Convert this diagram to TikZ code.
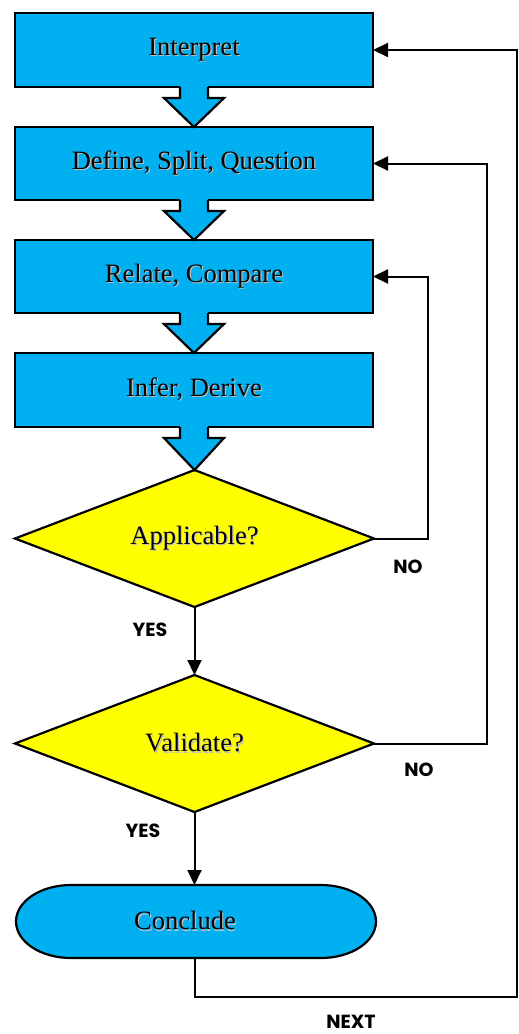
\documentclass[tikz,border=0pt]{standalone}
\usepackage{fontspec}
\setmainfont{Liberation Serif}
\newfontfamily\lblfont{Poppins}
\usetikzlibrary{shapes.geometric,arrows.meta,calc,backgrounds}
\definecolor{boxblue}{HTML}{00B0F0}
\definecolor{dyellow}{HTML}{FFFF00}
\newcommand\shd[1]{\leavevmode\rlap{\kern1.2pt\raisebox{-1.2pt}{\textcolor{black!25}{#1}}}#1}
\tikzset{
  every node/.style={inner sep=0pt, outer sep=0pt},
  txt/.style={font=\fontsize{26.5}{30}\selectfont},
  procbox/.style={txt, draw=black, fill=boxblue, line width=2.2pt, minimum width=358pt, minimum height=74pt},
  decision/.style={txt, diamond, draw=black, fill=dyellow, line width=2.2pt, aspect=2.62, minimum width=359pt, minimum height=137pt},
  termbox/.style={txt, minimum width=360pt, minimum height=73pt},
  conn/.style={draw=black, line width=2pt, -{Triangle[length=15pt,width=14pt]}},
  lbl/.style={font=\lblfont\bfseries\fontsize{19}{22}\selectfont},
  blockfill/.style={fill=boxblue},
  blockline/.style={draw=black, line width=2.2pt, line join=miter},
}
\newcommand\blockarrow[2]{%
  \fill[blockfill] ($(#1.south)+(-14,-2)$) -- ($(#1.south)+(-14,11)$) -- ($(#1.south)+(-30,11)$) -- (#2.north) -- ($(#1.south)+(30,11)$) -- ($(#1.south)+(14,11)$) -- ($(#1.south)+(14,-2)$) -- cycle;
  \draw[blockline] ($(#1.south)+(-14,0)$) -- ($(#1.south)+(-14,11)$) -- ($(#1.south)+(-30,11)$) -- (#2.north) -- ($(#1.south)+(30,11)$) -- ($(#1.south)+(14,11)$) -- ($(#1.south)+(14,0)$);
}
\begin{document}
\begin{tikzpicture}[x=1pt,y=-1pt]
\useasboundingbox (0,0) rectangle (519,1034);
\node[procbox] (b1) at (194,50) {\shd{Interpret}};
\node[procbox, minimum height=73pt] (b2) at (194,163.5) {\shd{Define, Split, Question}};
\node[procbox, minimum height=73pt] (b3) at (194,276.5) {\shd{Relate, Compare}};
\node[procbox] (b4) at (194,390) {\shd{Infer, Derive}};
\node[decision] (d1) at (194.5,538.5) {\shd{Applicable?}};
\node[decision] (d2) at (194.5,743.5) {\shd{Validate?}};
\node[termbox] (conc) at (196,921.5) {\shd{Conclude}\hspace*{22pt}};
\begin{pgfonlayer}{background}
\draw[fill=boxblue, line width=2.2pt] ($(conc.north west)+(55,0)$) -- ($(conc.north east)+(-55,0)$)
  arc[start angle=90, end angle=-90, x radius=55pt, y radius=36.5pt]
  -- ($(conc.south west)+(55,0)$)
  arc[start angle=-90, end angle=-270, x radius=55pt, y radius=36.5pt] -- cycle;
\end{pgfonlayer}
\blockarrow{b1}{b2}
\blockarrow{b2}{b3}
\blockarrow{b3}{b4}
\blockarrow{b4}{d1}
\draw[conn] (d1.south) -- (d2.north);
\draw[conn] (d2.south) -- (d2.south |- conc.north);
\draw[conn] (d1.east) -- ++(54,0) |- (b3.east);
\draw[conn] (d2.east) -- ++(112.5,0) |- (b2.east);
\coordinate (nx) at (517,997);
\draw[conn] (d2.south |- conc.south) |- (nx) |- (b1.east);
\node[lbl] (no1) at (408,567) {NO};
\node[lbl] (yes1) at (150,630) {YES};
\node[lbl] (no2) at (419,770) {NO};
\node[lbl] (yes2) at (143,831) {YES};
\node[lbl] (next) at (351,1022) {NEXT};
\end{tikzpicture}
\end{document}
